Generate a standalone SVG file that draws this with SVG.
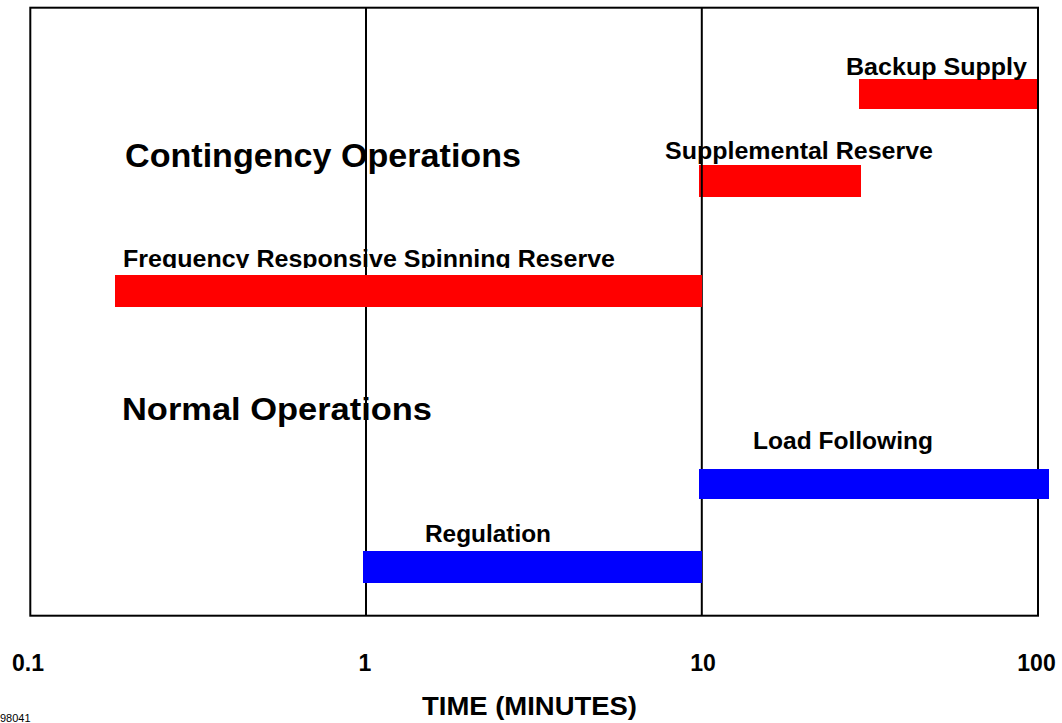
<svg xmlns="http://www.w3.org/2000/svg" width="1062" height="723" viewBox="0 0 1062 723">
  <style>
    .lbl { font-family: "Liberation Sans", Arial, sans-serif; font-weight: bold; fill: #000; }
    .grid { stroke: #000; stroke-width: 2; fill: none; }
    .red { fill: #ff0000; }
    .blue { fill: #0000ff; }
  </style>
  <defs>
    <clipPath id="clipFreq">
      <rect x="100" y="240" width="560" height="28"/>
    </clipPath>
  </defs>
  <rect x="0" y="0" width="1062" height="723" fill="#fff"/>

  <g id="supplemental-reserve">
    <rect class="red" x="699" y="165" width="162" height="32"/>
  </g>

  <g id="chart-frame">
    <rect class="grid" x="30.3" y="7.7" width="1007.7" height="608"/>
    <line class="grid" x1="366" y1="7.7" x2="366" y2="615.7"/>
    <line class="grid" x1="701.8" y1="7.7" x2="701.8" y2="615.7"/>
  </g>

  <g id="section-labels">
    <text class="lbl" x="125" y="167" font-size="33" textLength="396" lengthAdjust="spacingAndGlyphs">Contingency Operations</text>
    <text class="lbl" x="122" y="420" font-size="31" textLength="310" lengthAdjust="spacingAndGlyphs">Normal Operations</text>
  </g>

  <g id="backup-supply">
    <rect class="red" x="859" y="79" width="178" height="30"/>
    <text class="lbl" x="846" y="75" font-size="23" textLength="181" lengthAdjust="spacingAndGlyphs">Backup Supply</text>
  </g>

  <g id="supplemental-reserve-label">
    <text class="lbl" x="665" y="159" font-size="23" textLength="268" lengthAdjust="spacingAndGlyphs">Supplemental Reserve</text>
  </g>

  <g id="frequency-responsive-spinning-reserve">
    <rect class="red" x="115" y="275" width="587" height="32"/>
    <text class="lbl" x="123" y="267" font-size="23" textLength="492" lengthAdjust="spacingAndGlyphs" clip-path="url(#clipFreq)">Frequency Responsive Spinning Reserve</text>
  </g>

  <g id="load-following">
    <rect class="blue" x="699" y="469" width="350" height="30"/>
    <text class="lbl" x="753" y="449" font-size="23" textLength="180" lengthAdjust="spacingAndGlyphs">Load Following</text>
  </g>

  <g id="regulation">
    <rect class="blue" x="363" y="551" width="339" height="32"/>
    <text class="lbl" x="425" y="542" font-size="23" textLength="126" lengthAdjust="spacingAndGlyphs">Regulation</text>
  </g>

  <g id="axis">
    <text class="lbl" x="28" y="671" font-size="23" text-anchor="middle">0.1</text>
    <text class="lbl" x="365" y="671" font-size="23" text-anchor="middle">1</text>
    <text class="lbl" x="703" y="671" font-size="23" text-anchor="middle">10</text>
    <text class="lbl" x="1036.5" y="671" font-size="23" text-anchor="middle">100</text>
    <text class="lbl" x="422" y="715" font-size="26" textLength="215" lengthAdjust="spacingAndGlyphs">TIME (MINUTES)</text>
    <text x="0" y="722" font-family="Liberation Sans, Arial, sans-serif" font-size="11" fill="#000">98041</text>
  </g>

  <g id="connectors"/>
</svg>
